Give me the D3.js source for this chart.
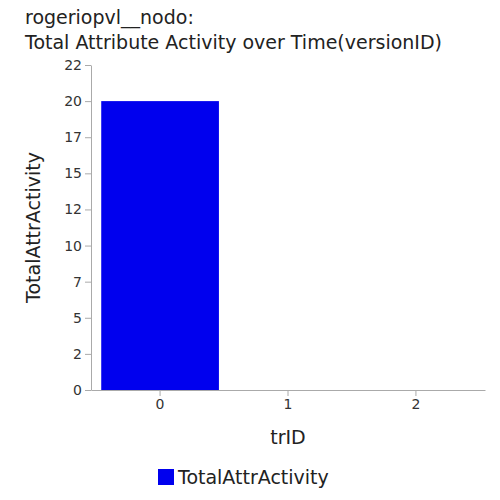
<!DOCTYPE html>
<html><head><meta charset="utf-8">
<script src="https://cdn.jsdelivr.net/npm/d3@7/dist/d3.min.js"></script>
<style>body{margin:0;background:#fff}text{font-family:"DejaVu Sans",sans-serif}</style>
</head><body><svg id="c" width="500" height="500"></svg>
<script>
const categories = ["0","1","2"];
const values = [20, 0, 0];
const yTicks = [0,2.5,5,7.5,10,12.5,15,17.5,20,22.5];
const titleLines = ["rogeriopvl__nodo:", "Total Attribute Activity over Time(versionID)"];

const svg = d3.select("#c");
const m = {l:91, r:485, t:65, b:390};
const x = d3.scaleBand().domain(categories).range([m.l, m.r]).paddingInner(0.08).paddingOuter(0.08);
const y = d3.scaleLinear().domain([0,22.5]).range([m.b, m.t]);

svg.selectAll("text.title").data(titleLines).join("text")
  .attr("x",25).attr("y",(d,i)=>24+i*25).attr("font-size",19).attr("fill","#222").text(d=>d);

svg.selectAll("rect.bar").data(values).join("rect")
  .attr("x",(d,i)=>x(categories[i])).attr("width",x.bandwidth())
  .attr("y",d=>y(d)).attr("height",d=>m.b-y(d)).attr("fill","#0000ee");

const ya = svg.append("g").attr("transform",`translate(${m.l},0)`)
  .call(d3.axisLeft(y).tickValues(yTicks).tickFormat(d=>Math.floor(d)).tickSizeOuter(0));
const xa = svg.append("g").attr("transform",`translate(0,${m.b})`)
  .call(d3.axisBottom(x).tickSizeOuter(0));
[ya,xa].forEach(a=>{a.selectAll("text").attr("font-size",14).attr("fill","#333");
  a.selectAll("line,path").attr("stroke","#aaa");});

svg.append("text").attr("x",(m.l+m.r)/2).attr("y",444).attr("text-anchor","middle")
  .attr("font-size",19).attr("fill","#222").text("trID");
svg.append("text").attr("transform",`translate(40,${(m.t+m.b)/2}) rotate(-90)`).attr("text-anchor","middle")
  .attr("font-size",19).attr("fill","#222").text("TotalAttrActivity");

svg.append("rect").attr("x",158).attr("y",469).attr("width",16).attr("height",16).attr("fill","#0000ee");
svg.append("text").attr("x",178).attr("y",484).attr("font-size",19).attr("fill","#222").text("TotalAttrActivity");
</script></body></html>
